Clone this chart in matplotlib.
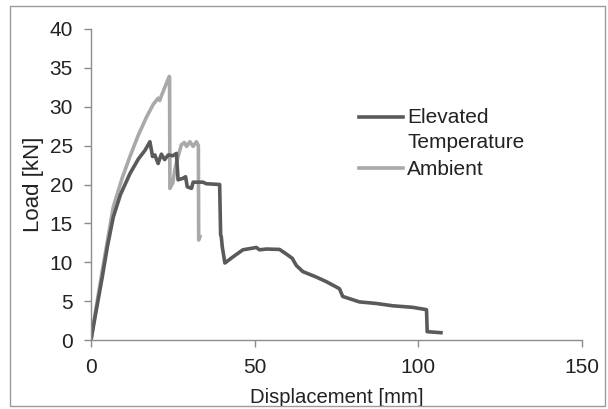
import matplotlib
matplotlib.use("Agg")
import matplotlib.pyplot as plt
from matplotlib.patches import Rectangle

plt.rcParams['font.family'] = ['Liberation Sans', 'DejaVu Sans']

# Elevated temperature series
elev_x = [0, 1.0, 3.4, 5.0, 6.8, 9.0, 11.9, 14.5, 16.5, 18.0, 18.8, 19.5, 20.5, 21.5, 22.5,
          23.6, 25.0, 26.1, 26.6, 28.1, 28.9, 29.4, 30.7, 31.2, 34.2, 35.2, 39.3, 39.6,
          39.8, 40.1, 40.9, 43.4, 46.4, 50.5, 51.5, 53.6, 57.6, 59.7, 61.5, 62.7, 64.7,
          68.8, 71.9, 75.9, 76.9, 82.0, 87.1, 92.2, 98.3, 102.5, 102.7, 106.9]
elev_y = [0, 2.4, 8.0, 12.0, 15.8, 18.7, 21.4, 23.3, 24.4, 25.5, 23.6, 23.8, 22.7, 23.9, 23.2,
          23.8, 23.7, 24.0, 20.6, 20.8, 21.0, 19.7, 19.5, 20.3, 20.3, 20.1, 20.0, 13.5,
          13.3, 12.0, 9.9, 10.7, 11.6, 11.9, 11.6, 11.7, 11.65, 11.05, 10.5, 9.6, 8.8,
          8.1, 7.5, 6.6, 5.6, 4.9, 4.7, 4.4, 4.2, 3.9, 1.07, 0.94]

# Ambient series
amb_x = [0, 1.0, 3.4, 6.8, 9.5, 11.9, 14.5, 17.0, 19.0, 20.5, 21.0, 21.5, 23.9, 24.0,
         24.1, 25.0, 25.6, 26.6, 27.6, 28.5, 29.2, 30.2, 31.2, 32.2, 32.8, 32.9, 33.3]
amb_y = [0, 2.7, 8.8, 17.1, 20.8, 23.6, 26.4, 28.7, 30.3, 31.1, 30.8, 31.4, 33.9, 33.8,
         19.5, 20.2, 21.9, 23.6, 25.1, 25.4, 24.9, 25.5, 24.9, 25.5, 25.0, 12.85, 13.3]

x_ticks = [0, 50, 100, 150]
y_ticks = [0, 5, 10, 15, 20, 25, 30, 35, 40]
series_names = ['Elevated', 'Temperature', 'Ambient']

ELEV_C = '#5a5a5a'
AMB_C = '#a9a9a9'
TXT_C = '#222222'
FS = 15

fig = plt.figure(figsize=(6.08, 4.09), dpi=100)
fig.patches.append(Rectangle((10/608, 1-406/409), 595/608, 400/409, transform=fig.transFigure,
                             fill=False, edgecolor='#9a9a9a', linewidth=1.0))
ax = fig.add_axes([91/608, 1-340/409, (582-91)/608, (340-29)/409])

ax.plot(amb_x, amb_y, color=AMB_C, lw=2.6, solid_joinstyle='round')
ax.plot(elev_x, elev_y, color=ELEV_C, lw=2.6, solid_joinstyle='round')

ax.set_xlim(0, 150)
ax.set_ylim(0, 40)
ax.set_xticks(x_ticks)
ax.set_yticks(y_ticks)
for s in ['top', 'right']:
    ax.spines[s].set_visible(False)
for s in ['left', 'bottom']:
    ax.spines[s].set_color('#8c8c8c')
    ax.spines[s].set_linewidth(1.0)
ax.tick_params(axis='both', colors='#8c8c8c', labelcolor=TXT_C, labelsize=FS, length=5, width=1.0)
ax.tick_params(axis='x', pad=8)
ax.tick_params(axis='y', pad=8)
ax.set_xlabel('Displacement [mm]', fontsize=14.6, color=TXT_C, labelpad=8)
ax.set_ylabel('Load [kN]', fontsize=16, color=TXT_C, labelpad=4)

# Legend (drawn manually, first label line aligned with its key line)
tA = ax.transAxes
ax.plot([0.546, 0.635], [0.718, 0.718], color=ELEV_C, lw=2.6, transform=tA, clip_on=False)
ax.plot([0.546, 0.635], [0.552, 0.552], color=AMB_C, lw=2.6, transform=tA, clip_on=False)
ax.text(0.6436, 0.698, series_names[0], transform=tA, fontsize=FS, color=TXT_C, va='baseline')
ax.text(0.6436, 0.617, series_names[1], transform=tA, fontsize=FS, color=TXT_C, va='baseline')
ax.text(0.6436, 0.531, series_names[2], transform=tA, fontsize=FS, color=TXT_C, va='baseline')

fig.savefig('out.png', dpi=100)
